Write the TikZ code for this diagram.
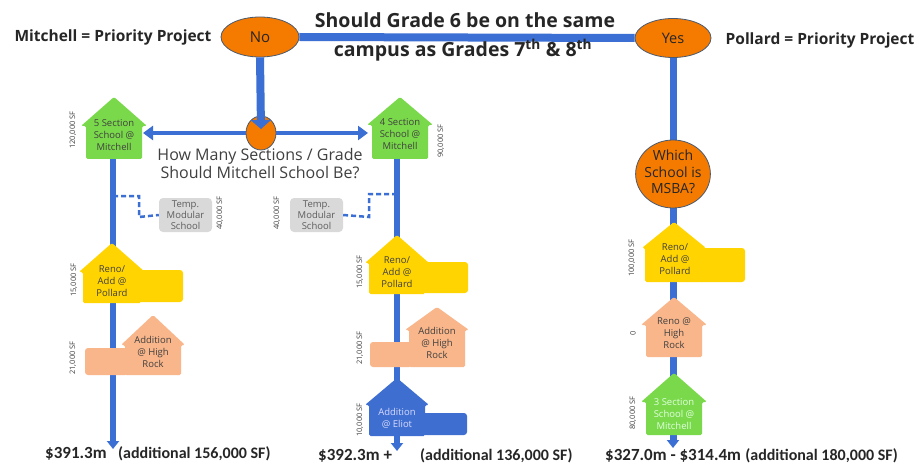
\documentclass[tikz,border=0pt]{standalone}
\usepackage{fontspec}
\setmainfont{Open Sans}
\newfontfamily\calb{Carlito}
\usetikzlibrary{arrows.meta,shapes.geometric}
\definecolor{lineblue}{HTML}{3B6FD4}
\definecolor{orng}{HTML}{F57A00}
\definecolor{ovb}{HTML}{4A5A70}
\definecolor{grn}{HTML}{7AD94A}
\definecolor{ylw}{HTML}{FFD400}
\definecolor{pch}{HTML}{F9B68A}
\definecolor{gbox}{HTML}{D9D9D9}
\definecolor{eblue}{HTML}{3E6FD0}
\definecolor{txt}{HTML}{404040}
\definecolor{ttl}{HTML}{262626}
\newcommand\hshape[7]{% color, cx, apex, eaves, bottom, halfbody, halfroof
  \fill[#1, rounded corners=1.5pt] ({#2-#6},#5) -- ({#2-#6},#4) -- ({#2-#7},#4) -- (#2,#3) -- ({#2+#7},#4) -- ({#2+#6},#4) -- ({#2+#6},#5) -- cycle;}
\tikzset{
  sflab/.style={font=\fontsize{7.5}{8}\selectfont, text=txt, rotate=90, inner sep=0},
  htxt/.style={font=\fontsize{9.5}{11.8}\selectfont, text=txt, align=center, inner sep=0},
  ltxt/.style={htxt, text=white!88!green},
  bline/.style={draw=lineblue, line width=5.5pt},
  dline/.style={draw=lineblue, line width=2.5pt, dash pattern=on 5pt off 3pt},
  oval/.style={ellipse, fill=orng, draw=ovb, line width=0.8pt, inner sep=0},
  tmpbox/.style={fill=gbox, rounded corners=4pt, minimum width=53pt, minimum height=34pt, inner sep=0, align=center, text=txt!85, font=\fontsize{9.5}{11.3}\selectfont},
  endarrow/.style={bline, -{Triangle[length=8pt,width=12pt]}},
  sidearr/.style={draw=lineblue, line width=3.5pt, -{Triangle[length=10pt,width=14pt]}},
  btxt/.style={font=\calb\bfseries\fontsize{17}{19}\selectfont, text=ttl, anchor=base west, inner sep=0},
  ptxt/.style={font=\bfseries\fontsize{15.5}{17}\selectfont, text=ttl, inner sep=0},
}
\begin{document}
\begin{tikzpicture}[x=1pt,y=-1pt]
\useasboundingbox[fill=white] (0,0) rectangle (920,465);
% top ovals and title
\node[oval, minimum width=78pt, minimum height=40pt, font=\fontsize{15}{17}\selectfont, text=ttl] (no) at (260,37) {No};
\node[oval, minimum width=76pt, minimum height=39pt, font=\fontsize{14.5}{17}\selectfont, text=ttl] (yes) at (673,38) {Yes};
\draw[draw=lineblue, line width=8pt] (no.east) -- (yes.west);
\node[ptxt] (mp) at (113,37) {Mitchell = Priority Project};
\node[ptxt] (pp) at (820,40) {Pollard = Priority Project};
\node[font=\bfseries\fontsize{19.5}{22}\selectfont, text=ttl, inner sep=0] (t1) at (465,20) {Should Grade 6 be on the same};
\node[font=\bfseries\fontsize{19.5}{22}\selectfont, text=ttl, inner sep=0] (t2) at (463,50) {campus as Grades 7\textsuperscript{th} \& 8\textsuperscript{th}};
% question oval
\node[oval, minimum width=30pt, minimum height=34pt] (q1) at (261,133) {};
\coordinate (gl) at (143,133);
\coordinate (gm) at (368,133);
\draw[sidearr] (q1.west) -- (gl);
\draw[sidearr] (q1.east) -- (gm);
\coordinate (qtip) at (261,129);
\draw[draw=lineblue, line width=8pt, -{Triangle[length=9pt,width=20pt]}] (no.south) -- (qtip);
\node[font=\fontsize{16}{18}\selectfont, text=txt, align=center, inner sep=0] (q1t) at (260,164) {How Many Sections / Grade\\Should Mitchell School Be?};
% ---------- left column
\coordinate (l0) at (113,159);
\coordinate (l1) at (113,449);
\draw[endarrow] (l0) -- (l1);
\node[tmpbox] (tl) at (185.5,215) {Temp.\\Modular\\School};
\coordinate (lb) at (113,196);
\draw[dline] (lb) -- (139,196) -- (139,217) -- (tl.west);
\node[sflab] (tls) at (220,213) {40,000 SF};
\hshape{grn}{114}{97}{126}{159}{28}{33}
\node[htxt] (l5) at (114,135) {5 Section\\School @\\Mitchell};
\node[sflab] (l5s) at (73,130) {120,000 SF};
\hshape{ylw}{112}{243}{272}{303}{29}{33}
\fill[ylw, rounded corners=3pt] (138,270) rectangle (183,302);
\node[htxt] (lr) at (112,281) {Reno/\\Add @\\Pollard};
\node[sflab] (lrs) at (74,280) {15,000 SF};
\hshape{pch}{153}{315}{345}{375}{28}{32}
\fill[pch, rounded corners=3pt] (85,348) rectangle (128,375);
\node[htxt] (lh) at (153,352) {Addition\\@ High\\Rock};
\node[sflab] (lhs) at (73,358) {21,000 SF};
% ---------- middle column
\coordinate (m0) at (397,159);
\coordinate (m1) at (397,451);
\draw[endarrow] (m0) -- (m1);
\node[tmpbox] (tm) at (316.5,215) {Temp.\\Modular\\School};
\coordinate (mb) at (397,194);
\draw[dline] (mb) -- (369,194) -- (369,217) -- (tm.east);
\node[sflab] (tms) at (277,213) {40,000 SF};
\hshape{grn}{400}{97}{125}{159}{28}{33}
\node[htxt] (m4) at (400,134) {4 Section\\School @\\Mitchell};
\node[sflab] (m4s) at (441,141) {90,000 SF};
\hshape{ylw}{397}{235}{263}{294}{28}{32}
\fill[ylw, rounded corners=3pt] (422,262) rectangle (468,293);
\node[htxt] (mr) at (397,272) {Reno/\\Add @\\Pollard};
\node[sflab] (mrs) at (360,272) {15,000 SF};
\hshape{pch}{437}{307}{330}{367}{28}{32}
\fill[pch, rounded corners=3pt] (370,342) rectangle (412,367);
\node[htxt] (mh) at (437,343) {Addition\\@ High\\Rock};
\node[sflab] (mhs) at (360,348) {21,000 SF};
\hshape{eblue}{397}{378}{405}{436}{28}{32}
\fill[eblue, rounded corners=3pt] (422,413) rectangle (467,435);
\node[htxt, text=white!85!blue] (me) at (397,418) {Addition\\@ Eliot};
\node[sflab] (mes) at (360,420) {10,000 SF};
% ---------- right column
\coordinate (r1) at (673,448);
\draw[endarrow, line width=7pt] (yes.south) -- (r1);
\node[circle, fill=orng, draw=ovb, line width=0.8pt, minimum size=68pt, inner sep=0, xscale=1.1] (msba) at (673,174) {};
\node[font=\fontsize{14}{16.5}\selectfont, text=ttl, align=center, inner sep=0] (msbat) at (673,172) {Which\\School is\\MSBA?};
\hshape{ylw}{674}{222}{248}{282}{29}{32}
\fill[ylw, rounded corners=3pt] (698,248) rectangle (745,282);
\node[htxt] (rr) at (675,259) {Reno/\\Add @\\Pollard};
\node[sflab] (rrs) at (632,258) {100,000 SF};
\hshape{pch}{674}{297}{325}{357}{28}{33}
\node[htxt] (rh) at (674,333) {Reno @\\High\\Rock};
\node[sflab] (rhs) at (633,333) {0};
\hshape{grn}{674}{373}{402}{435}{28}{33}
\node[ltxt] (r3) at (674,414) {3 Section\\School @\\Mitchell};
\node[sflab] (r3s) at (633,413) {80,000 SF};
% ---------- bottom totals
\node[btxt] (c1) at (45,458) {\$391.3m};
\node[btxt, font=\calb\bfseries\fontsize{16}{18}\selectfont] (c1a) at (118,458) {(additional 156,000 SF)};
\node[btxt] (c2) at (318,460) {\$392.3m +};
\node[btxt, font=\calb\bfseries\fontsize{16}{18}\selectfont] (c2a) at (420,460) {(additional 136,000 SF)};
\node[btxt] (c3) at (605,460) {\$327.0m - \$314.4m};
\node[btxt, font=\calb\bfseries\fontsize{16}{18}\selectfont] (c3a) at (c3.base east) [xshift=4pt] {(additional 180,000 SF)};
\end{tikzpicture}
\end{document}
